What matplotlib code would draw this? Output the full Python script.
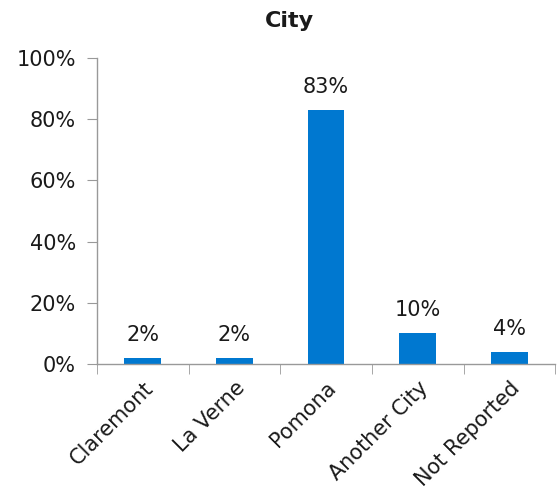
import matplotlib
matplotlib.use("Agg")
import matplotlib.pyplot as plt
import numpy as np

categories = ["Claremont", "La Verne", "Pomona", "Another City", "Not Reported"]
values = [2, 2, 83, 10, 4]
yticks = [0, 20, 40, 60, 80, 100]
ytick_labels = ["0%", "20%", "40%", "60%", "80%", "100%"]

plt.rcParams['font.family'] = ['DejaVu Sans']
fig = plt.figure(figsize=(5.57, 4.95), dpi=100)
ax = fig.add_axes([0.174, 0.2646, 0.823, 0.6182])

x = np.arange(len(categories))
color = "#0078D0"
txt = "#1a1a1a"
ax.bar(x, values, width=0.4, color=color)
for xi, v in zip(x, values):
    ax.text(xi, v + 4.3, f"{v}%", ha="center", va="bottom", fontsize=15, color=txt)

ax.set_xlim(-0.5, len(categories) - 0.5)
ax.set_ylim(0, 100)
ax.set_yticks(yticks)
ax.set_yticklabels(ytick_labels, fontsize=15, color=txt)
ax.set_xticks(x)
ax.set_xticklabels(categories, rotation=45, ha="right", rotation_mode="anchor", fontsize=15, color=txt)
ax.tick_params(axis="x", length=0, pad=10)
ax.set_xticks(np.arange(len(categories) + 1) - 0.5, minor=True)
ax.tick_params(axis="x", which="minor", length=7, color="#999999")
ax.tick_params(axis="y", length=7, color="#999999", pad=8)

for s in ["top", "right"]:
    ax.spines[s].set_visible(False)
for s in ["left", "bottom"]:
    ax.spines[s].set_color("#999999")
    ax.spines[s].set_linewidth(1)

fig.text(0.52, 0.958, "City", ha="center", va="center", fontsize=16, fontweight="bold", color=txt)

fig.savefig("out.png", dpi=100)
